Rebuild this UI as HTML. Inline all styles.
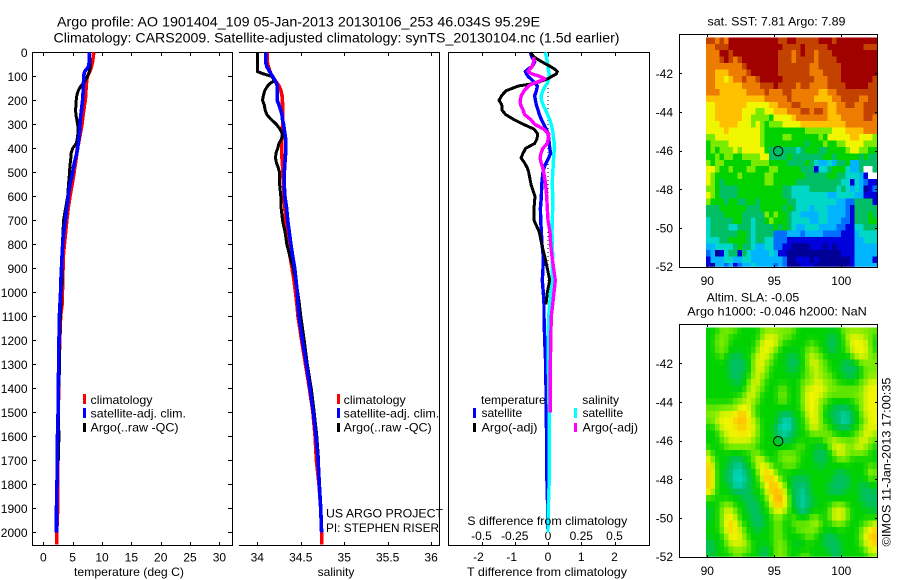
<!DOCTYPE html>
<html lang="en">
<head>
<meta charset="utf-8">
<title>Argo profile chart</title>
<style>
html,body{margin:0;padding:0;background:#fff;}
svg{display:block;}
text{font-family:"Liberation Sans",sans-serif;font-size:12px;fill:#000;}
</style>
</head>
<body>
<svg id="chart" xmlns="http://www.w3.org/2000/svg" width="900" height="580" viewBox="0 0 900 580">
  <rect x="0" y="0" width="900" height="580" fill="#fff"/>
  <text x="57" y="26.5" style="font-size:14px" textLength="483" lengthAdjust="spacingAndGlyphs">Argo profile: AO 1901404_109 05-Jan-2013 20130106_253 46.034S 95.29E</text>
  <text x="53.5" y="42.5" style="font-size:14px" textLength="566" lengthAdjust="spacingAndGlyphs">Climatology: CARS2009. Satellite-adjusted climatology: synTS_20130104.nc (1.5d earlier)</text>

  <g id="p1"></g>
  <g id="p2"></g>
  <g id="p3"></g>
  <g id="m1"></g>
  <g id="m2"></g>

  <text x="74" y="576" textLength="110" lengthAdjust="spacingAndGlyphs">temperature (deg C)</text>
  <text x="336" y="576" text-anchor="middle">salinity</text>
  <text x="467" y="576" textLength="160" lengthAdjust="spacingAndGlyphs">T difference from climatology</text>
  <text x="467.3" y="525" textLength="160" lengthAdjust="spacingAndGlyphs">S difference from climatology</text>

  <g>
    <rect x="83" y="394" width="3" height="10" fill="#f00"/>
    <rect x="83" y="408" width="3" height="10" fill="#00f"/>
    <rect x="83" y="423" width="3" height="9" fill="#000"/>
    <text x="90.5" y="404" textLength="62" lengthAdjust="spacingAndGlyphs">climatology</text>
    <text x="90.5" y="417.5" textLength="95.5" lengthAdjust="spacingAndGlyphs">satellite-adj. clim.</text>
    <text x="90.5" y="431.5" textLength="88" lengthAdjust="spacingAndGlyphs">Argo(..raw -QC)</text>
  </g>
  <g>
    <rect x="337" y="394" width="3" height="10" fill="#f00"/>
    <rect x="337" y="408" width="3" height="10" fill="#00f"/>
    <rect x="337" y="423" width="3" height="9" fill="#000"/>
    <text x="343.7" y="404" textLength="62" lengthAdjust="spacingAndGlyphs">climatology</text>
    <text x="343.7" y="417.5" textLength="95.5" lengthAdjust="spacingAndGlyphs">satellite-adj. clim.</text>
    <text x="343.7" y="431.5" textLength="88" lengthAdjust="spacingAndGlyphs">Argo(..raw -QC)</text>
  </g>
  <text x="326" y="517.5" textLength="117" lengthAdjust="spacingAndGlyphs">US ARGO PROJECT</text>
  <text x="326" y="532" textLength="113" lengthAdjust="spacingAndGlyphs">PI: STEPHEN RISER</text>

  <g>
    <text x="481" y="404">temperature</text>
    <text x="582.3" y="404">salinity</text>
    <rect x="473" y="408" width="3" height="10" fill="#00f"/>
    <rect x="473" y="423" width="3" height="9" fill="#000"/>
    <rect x="574" y="408" width="3" height="10" fill="#0ff"/>
    <rect x="574" y="423" width="3" height="9" fill="#f0f"/>
    <text x="481.5" y="417">satellite</text>
    <text x="481.5" y="431.5" textLength="56" lengthAdjust="spacingAndGlyphs">Argo(-adj)</text>
    <text x="582.5" y="417">satellite</text>
    <text x="582.5" y="431.5" textLength="55.5" lengthAdjust="spacingAndGlyphs">Argo(-adj)</text>
  </g>

  <text x="707.5" y="25.5" textLength="138" lengthAdjust="spacingAndGlyphs">sat. SST: 7.81  Argo: 7.89</text>
  <text x="706.7" y="301.5" textLength="92.5" lengthAdjust="spacingAndGlyphs">Altim. SLA: -0.05</text>
  <text x="687.3" y="315.7" textLength="179.5" lengthAdjust="spacingAndGlyphs">Argo h1000: -0.046 h2000: NaN</text>
  <text transform="translate(890.5,546.5) rotate(-90)" textLength="169" lengthAdjust="spacingAndGlyphs">©IMOS 11-Jan-2013 17:00:35</text>
</svg>
<script>
// Shared depth levels (m) for all profile series
const depths = [0,20,40,60,70,80,90,100,110,120,130,140,160,180,200,220,240,260,280,300,320,340,360,380,400,420,440,460,480,500,550,600,650,700,750,800,850,900,950,1000,1050,1100,1200,1300,1400,1500,1600,1700,1800,1900,2000,2050];

// Temperature (deg C)
const tempClim = [8.6,8.5,8.4,8.2,8.1,7.9,7.7,7.55,7.45,7.4,7.35,7.3,7.25,7.2,7.15,7.0,6.9,6.8,6.7,6.6,6.45,6.3,6.15,6.0,5.8,5.7,5.6,5.5,5.35,5.25,4.9,4.55,4.25,4.0,3.8,3.6,3.4,3.35,3.3,3.25,3.2,2.95,2.8,2.7,2.6,2.55,2.5,2.48,2.46,2.45,2.28,2.28];
const tempArgo = [7.85,7.9,7.95,7.95,7.9,7.85,7.7,7.5,7.3,7.1,6.8,6.4,5.95,5.7,5.6,5.55,5.5,5.55,5.7,5.85,5.95,5.9,5.8,5.6,5.0,4.75,4.68,4.6,4.52,4.48,4.3,4.15,3.8,3.45,3.35,3.25,3.22,3.22,3.2,3.05,3.0,2.9,2.78,2.8,2.62,2.55,2.65,2.55,null,null,null,null];
const tempSat = [7.84,7.84,7.84,7.7,7.4,7.05,6.95,6.9,6.88,6.86,6.84,6.82,6.8,6.75,6.7,6.6,6.5,6.4,6.3,6.25,6.2,6.15,6.05,5.95,5.85,5.7,5.5,5.3,5.15,5.0,4.55,4.25,4.0,3.75,3.5,3.3,3.18,3.1,3.0,2.95,2.85,2.75,2.68,2.62,2.56,2.52,2.42,2.38,2.34,2.25,2.25,null];

// Salinity
const salClim = [34.115,34.115,34.115,34.127,34.138,34.146,34.157,34.173,34.192,34.211,34.23,34.25,34.272,34.284,34.288,34.292,34.292,34.292,34.292,34.292,34.288,34.288,34.284,34.28,34.28,34.28,34.284,34.288,34.292,34.292,34.3,34.307,34.318,34.326,34.338,34.35,34.376,34.4,34.422,34.44,34.456,34.468,34.51,34.555,34.6,34.64,34.665,34.68,34.71,34.73,34.74,34.74];
const salArgo = [34.0,34.0,34.0,34.0,34.0,34.0,34.07,34.165,34.185,34.19,34.145,34.12,34.085,34.07,34.06,34.08,34.09,34.11,34.16,34.22,34.26,34.29,34.28,34.25,34.235,34.215,34.21,34.22,34.24,34.255,34.257,34.27,34.275,34.29,34.32,34.34,34.375,34.415,34.44,34.465,34.485,34.5,34.54,34.575,34.62,34.655,34.685,34.705,null,null,null,null];
const salSat = [34.096,34.096,34.096,34.11,34.127,34.142,34.157,34.176,34.192,34.207,34.222,34.23,34.23,34.23,34.23,34.25,34.268,34.284,34.29,34.303,34.31,34.318,34.326,34.326,34.326,34.326,34.322,34.318,34.315,34.31,34.31,34.318,34.337,34.35,34.368,34.387,34.407,34.43,34.445,34.46,34.468,34.48,34.52,34.565,34.606,34.644,34.675,34.70,34.713,34.73,34.74,null];

// Differences from climatology
const diffTSat = [-.53,-.48,-.40,-.48,-.60,-.68,-.65,-.60,-.52,-.45,-.38,-.32,-.35,-.40,-.38,-.35,-.30,-.26,-.20,-.13,-.05,.01,.02,.04,.05,.08,.02,-.05,-.12,-.15,-.19,-.20,-.23,-.22,-.20,-.18,-.14,-.15,-.17,-.14,-.12,-.12,-.10,-.07,-.06,-.06,-.04,-.04,-.03,-.01,0,null];
const diffTArgo = [-.52,-.42,-.18,.08,.20,.28,.25,.12,0,-.20,-.40,-.88,-1.26,-1.39,-1.47,-1.39,-1.39,-1.27,-1.03,-.74,-.42,-.31,-.33,-.40,-.67,-.75,-.81,-.71,-.63,-.58,-.51,-.39,-.42,-.42,-.26,-.19,-.10,-.02,.05,-.02,-.06,null,null,null,null,null,null,null,null,null,null,null];
const diffSSat = [-.02,-.012,-.005,0,.002,.005,.008,.008,.005,0,-.005,-.02,-.038,-.05,-.05,-.035,-.018,-.002,.012,.025,.032,.038,.042,.048,.048,.045,.042,.04,.038,.035,.032,.035,.035,.032,.03,.032,.035,.03,.03,.02,.012,.005,0,.002,.005,.008,.01,.01,.008,.002,0,null];
const diffSArgo = [null,-.105,-.108,-.12,-.138,-.15,-.12,-.062,-.025,-.062,-.112,-.145,-.18,-.2,-.21,-.205,-.188,-.175,-.13,-.1,-.03,.005,.002,-.005,-.038,-.052,-.06,-.052,-.04,-.032,-.018,-.01,-.005,0,.015,.02,.03,.042,.055,.045,.035,.025,.02,.018,.018,.018,null,null,null,null,null,null];

// Tick values and labels
const depthTicks = [0,100,200,300,400,500,600,700,800,900,1000,1100,1200,1300,1400,1500,1600,1700,1800,1900,2000];
const tempTicks = [0,5,10,15,20,25,30];
const salTicks = [34,34.5,35,35.5,36];
const diffTTicks = [-2,-1,0,1,2];
const diffSTicks = [-0.5,-0.25,0,0.25,0.5];
const diffSTickLabels = ['-0.5','-0.25','0','0.25','0.5'];
const lonTicks = [90,95,100];
const latTicks = [-42,-44,-46,-48,-50,-52];
const floatLon = 95.29;
const floatLat = -46.03;

// Map level grids: 36 rows (north to south) of 38 columns; -1 = no data
const sstLevels = [
[11,11,10,11,10,12,12,12,12,12,12,12,12,12,12,12,11,11,12,12,11,11,11,11,11,12,12,12,11,12,12,12,12,12,12,12,12,12],
[10,10,11,11,11,12,12,12,12,12,12,12,12,12,12,12,12,11,11,11,11,12,11,11,11,11,11,12,12,12,12,12,12,12,12,11,11,11],
[10,10,10,12,12,11,12,12,12,12,12,12,12,12,12,12,11,11,11,10,11,12,11,11,10,11,11,11,12,12,12,12,12,12,12,12,12,12],
[10,10,10,11,12,11,10,11,12,12,12,12,12,12,12,12,11,11,11,10,11,11,11,11,10,11,11,11,11,12,12,12,12,12,12,12,12,12],
[10,10,10,10,10,10,10,10,11,12,12,12,12,12,12,12,11,11,11,11,11,11,11,10,10,11,11,11,11,11,12,12,12,12,12,12,12,12],
[10,10,9,9,9,10,10,10,10,11,12,12,12,12,12,12,11,11,11,11,11,11,11,10,10,10,11,11,11,11,12,12,12,12,12,12,12,12],
[10,10,9,9,8,9,10,10,11,10,10,11,12,12,12,12,12,11,11,11,11,11,11,11,10,10,10,11,11,11,12,12,12,12,12,12,12,11],
[10,10,9,9,9,9,9,9,10,10,10,10,11,11,11,12,11,11,11,11,10,11,11,10,10,10,10,11,11,11,11,12,12,12,12,12,11,11],
[10,10,10,9,9,9,9,9,9,10,10,10,10,11,10,10,10,11,11,10,10,10,10,10,10,9,9,10,10,11,11,11,11,11,11,11,11,11],
[9,9,9,9,9,9,9,9,9,9,9,9,9,10,10,10,10,10,11,10,10,10,10,10,9,9,9,9,10,10,11,11,11,11,10,10,11,11],
[8,8,9,9,9,9,9,9,9,8,8,8,8,8,9,9,10,10,10,11,11,10,10,10,10,10,10,9,9,10,10,11,11,10,10,11,11,11],
[8,8,9,9,9,9,9,9,8,8,8,7,7,8,8,9,9,9,10,10,10,11,11,10,11,11,10,9,9,10,10,10,10,10,10,11,11,11],
[8,8,9,9,9,9,9,9,8,8,7,7,7,7,6,8,8,8,8,9,10,10,10,10,10,10,10,9,9,9,10,10,10,10,10,11,11,10],
[8,8,8,9,9,9,9,8,8,8,7,8,7,6,7,7,7,8,8,8,8,9,9,9,9,9,9,9,9,9,9,10,10,10,10,10,10,10],
[8,8,8,8,9,8,8,8,8,8,8,8,7,6,6,6,6,6,6,6,6,6,7,7,7,7,7,7,8,8,8,9,9,9,9,10,10,10],
[7,7,8,8,8,8,8,8,8,8,8,8,7,6,6,6,6,7,7,6,6,6,6,6,6,7,6,8,8,8,8,8,9,9,8,8,8,7],
[6,7,7,7,7,8,8,8,8,8,8,8,7,6,6,6,6,6,6,6,6,6,5,6,6,6,7,6,6,7,7,8,8,8,8,7,7,7],
[6,7,6,7,7,7,8,7,8,8,8,8,8,6,5,5,5,5,5,5,4,5,6,6,6,5,5,6,6,6,6,7,8,8,7,7,6,6],
[6,6,7,6,7,7,6,6,7,7,7,7,8,8,5,5,5,5,6,5,5,5,5,5,5,5,6,6,5,6,6,6,6,6,5,6,5,5],
[7,6,7,7,6,6,6,6,6,6,7,7,7,7,6,6,6,6,5,5,5,5,6,5,4,3,3,4,3,5,5,6,3,3,5,5,5,5],
[8,8,7,6,6,7,6,6,6,7,7,6,6,6,7,7,6,6,6,6,6,5,5,5,1,4,4,5,6,6,6,4,3,3,5,-1,-1,5],
[8,7,6,6,6,6,6,7,6,6,6,6,6,7,7,6,6,6,6,6,6,6,5,5,5,5,5,6,6,5,5,4,4,4,3,1,-1,-1],
[8,7,6,5,6,6,6,6,6,6,6,6,6,7,7,6,6,6,6,6,5,5,5,5,5,5,5,5,5,5,4,4,1,4,3,2,1,1],
[7,7,6,5,5,5,5,6,6,6,6,6,6,6,6,6,6,5,5,4,4,4,4,5,5,5,5,5,5,4,5,4,3,4,3,0,1,2],
[8,7,6,5,5,5,5,6,6,6,6,6,6,6,6,6,6,5,5,4,4,4,4,4,4,4,4,3,3,4,4,4,4,3,3,1,1,1],
[7,6,6,6,5,6,6,5,5,6,6,5,6,6,6,6,6,6,5,5,4,4,4,4,4,4,4,4,4,3,3,2,2,5,5,5,5,1],
[5,5,5,6,6,6,6,6,6,5,5,5,6,6,6,6,6,5,6,5,4,4,4,3,4,4,4,3,3,3,3,2,1,5,5,5,5,5],
[5,5,5,5,6,6,6,6,5,5,5,5,5,7,6,7,6,6,5,4,4,3,3,3,3,4,4,3,3,3,3,2,1,5,5,5,6,5],
[4,5,5,5,5,5,6,6,5,5,4,5,5,6,7,6,6,6,5,4,4,4,4,3,3,4,4,3,3,3,2,2,1,5,5,5,6,6],
[4,5,5,5,5,4,4,5,5,5,4,5,5,5,5,6,5,6,5,4,3,3,4,4,4,3,3,3,3,2,2,1,1,4,4,5,5,5],
[4,5,5,5,5,5,5,6,6,5,4,5,5,5,5,2,2,2,3,3,3,2,3,3,3,3,2,2,2,2,1,1,1,3,4,4,4,4],
[4,4,4,5,5,6,6,6,6,5,4,5,5,4,4,2,2,2,1,1,1,1,1,1,1,1,1,1,1,1,1,1,1,3,3,4,4,4],
[3,3,4,4,4,4,5,6,5,5,4,3,3,4,4,2,2,1,1,0,0,0,0,1,1,1,0,1,0,1,1,1,1,3,3,3,3,3],
[2,3,0,1,4,5,5,1,5,4,3,3,3,3,4,3,1,1,0,0,0,0,0,0,0,0,0,0,0,0,1,1,1,3,3,3,3,3],
[1,3,3,3,4,4,3,3,4,4,3,3,3,3,3,3,3,2,0,0,1,1,1,0,1,0,0,0,0,0,0,0,1,3,3,3,3,1],
[1,0,3,3,2,3,1,2,3,3,4,3,3,3,3,2,3,2,0,0,0,1,1,1,0,0,0,0,0,0,0,0,1,3,3,3,3,3]
];
const slaLevels = [
[6,6,6,7,7,7,7,6,6,6,6,6,7,7,7,7,7,7,7,7,6,6,6,6,6,6,6,6,6,6,7,7,7,7,7,7,7,7],
[6,6,7,7,7,6,6,6,6,6,6,6,7,8,8,8,7,7,7,6,6,6,6,6,6,6,6,5,5,6,6,8,8,8,8,7,7,6],
[6,6,7,7,7,6,6,6,6,6,6,7,8,8,8,8,7,6,6,6,6,6,6,7,6,6,6,5,5,6,6,7,8,8,8,8,7,6],
[6,6,7,7,7,6,6,6,6,6,6,7,8,8,8,7,6,6,6,6,6,6,7,7,7,6,6,5,5,6,6,7,8,8,8,8,7,6],
[6,6,6,7,6,5,5,5,6,6,7,8,8,8,7,6,6,6,5,5,6,6,7,8,7,7,6,6,6,6,6,6,7,8,8,8,7,7],
[6,6,6,6,6,5,5,5,5,6,7,8,8,7,7,6,6,6,5,5,5,6,7,8,8,7,7,6,6,6,5,5,5,6,7,7,7,7],
[6,6,6,6,6,5,5,5,5,6,7,8,8,7,6,6,6,6,5,5,6,6,7,7,8,7,7,6,6,6,5,5,5,5,6,7,7,7],
[6,6,6,6,6,5,5,5,6,6,7,8,7,7,6,6,6,6,6,6,6,6,7,7,8,7,7,7,6,6,6,5,5,6,6,7,7,7],
[6,6,6,6,6,6,5,5,6,7,8,8,7,6,6,6,6,6,6,6,6,7,7,7,8,8,7,7,7,6,6,6,6,6,7,7,8,8],
[6,6,6,6,6,6,6,6,6,7,8,7,7,6,6,6,7,7,6,6,6,7,8,8,8,8,8,7,7,7,7,7,7,7,7,8,8,8],
[6,6,6,6,6,6,6,6,7,8,8,7,6,6,6,6,7,7,6,6,6,7,8,8,8,8,7,7,7,7,7,7,7,7,7,8,8,8],
[6,6,6,6,6,6,7,7,7,8,7,7,6,6,6,6,7,7,6,6,6,7,8,8,8,7,7,6,6,6,6,6,6,7,7,8,8,8],
[7,7,7,7,7,7,7,8,8,8,7,6,6,6,6,6,6,6,6,6,6,7,8,8,8,7,6,6,5,5,5,5,6,6,7,8,8,8],
[7,7,7,8,8,8,8,9,9,8,7,6,6,6,6,6,5,5,5,6,6,6,8,8,8,7,6,5,5,5,4,5,5,6,7,8,8,8],
[7,7,8,8,8,8,9,9,9,8,8,7,6,6,6,6,5,4,4,5,6,6,7,8,8,7,6,6,5,5,4,4,5,6,6,7,8,8],
[6,6,7,8,8,8,8,9,9,8,8,7,6,6,6,5,4,4,4,5,6,6,7,8,8,7,7,6,6,5,5,5,6,6,7,8,8,8],
[6,6,6,7,8,8,8,8,8,8,8,7,6,6,6,5,5,4,5,5,6,6,6,7,7,7,7,7,6,6,6,6,6,7,7,8,8,7],
[6,6,6,7,7,8,8,8,8,8,7,7,6,6,6,6,5,5,5,6,6,6,6,6,6,6,7,7,8,7,7,7,7,7,8,8,7,7],
[6,6,6,6,7,7,7,7,7,7,7,6,6,6,6,6,6,6,6,6,7,7,6,6,6,5,6,7,8,8,8,7,7,8,8,7,7,6],
[8,6,6,6,6,6,6,6,6,6,7,7,6,6,6,6,7,7,7,7,6,6,6,6,5,5,5,6,7,8,8,7,7,7,7,7,6,6],
[8,7,6,6,6,5,5,5,6,6,7,8,8,6,6,6,7,7,7,7,7,6,6,6,5,5,5,6,6,7,7,7,6,6,6,6,6,6],
[9,8,6,6,6,5,5,4,5,6,6,8,8,8,7,6,6,7,7,7,6,6,6,6,6,5,6,6,6,6,6,6,6,6,6,6,7,6],
[9,8,6,6,5,5,4,4,5,5,6,7,8,9,8,7,6,6,6,6,6,6,6,6,6,6,6,6,6,5,5,6,6,6,6,6,8,7],
[9,8,6,6,5,5,4,4,4,5,6,6,8,9,9,8,7,6,6,5,5,5,5,6,6,6,6,6,5,5,5,5,6,6,6,6,7,6],
[9,8,6,6,6,5,4,4,5,5,6,6,7,8,9,9,8,7,6,5,5,5,5,6,6,6,6,5,5,5,5,5,6,6,5,5,6,6],
[9,8,6,6,6,6,5,5,5,5,6,6,6,8,9,9,9,8,6,5,5,4,5,6,6,6,6,5,5,5,5,6,6,6,5,5,5,5],
[6,6,6,6,6,6,6,6,5,5,5,6,6,7,8,9,10,8,7,5,5,4,5,5,6,6,6,6,6,6,6,6,6,6,5,5,5,5],
[6,6,6,7,7,7,6,6,6,5,5,5,6,6,8,9,9,8,7,5,5,4,5,5,6,6,6,6,7,7,7,6,6,6,6,5,5,5],
[5,6,6,7,8,8,7,6,6,5,5,5,6,6,7,8,8,8,6,6,5,4,5,6,6,6,6,7,8,8,8,7,6,6,6,6,6,5],
[5,6,6,7,8,8,8,6,6,6,5,5,5,6,6,7,7,6,6,7,6,6,6,7,7,6,6,7,8,8,8,7,6,6,6,6,6,6],
[6,6,6,7,8,9,8,7,6,6,5,5,5,6,6,7,7,6,6,7,7,7,7,7,8,7,6,6,7,7,7,6,6,6,6,7,7,8],
[6,6,6,7,8,9,8,8,7,6,6,5,6,6,6,7,7,6,6,6,7,7,7,7,7,6,6,6,6,6,6,6,6,6,7,8,8,9],
[6,6,6,6,7,8,8,8,7,6,6,6,6,6,6,7,7,6,6,6,6,6,7,7,6,6,5,5,5,6,6,6,6,6,7,8,9,9],
[5,5,6,6,7,8,8,8,8,7,6,6,6,6,6,7,7,7,6,6,5,6,6,6,6,6,5,5,5,5,6,6,6,6,7,8,8,9],
[5,5,6,6,6,7,7,7,7,7,6,6,5,5,6,7,7,7,6,6,6,6,6,6,6,6,6,5,5,5,6,6,6,6,6,7,8,8],
[6,5,6,6,6,6,7,7,6,6,6,6,5,5,6,7,7,7,6,6,6,7,7,6,6,6,6,6,5,5,6,6,6,6,6,6,7,7]
];

const NS = 'http://www.w3.org/2000/svg';
const FRAME = {top: 52, bottom: 545};
const yDepth = d => 52.3 + 0.24 * d;
const xTemp = t => 43.3 + 5.87 * t;
const xSal = s => 257.3 + 86.9 * (s - 34);
const xDiffT = t => 548 + 33.25 * t;
const xDiffS = s => 548 + 133 * s;
const xLon = lon => 707.3 + 13.4 * (lon - 90);
const LEVEL_RGB = [[0,0,150],[0,0,220],[0,110,255],[0,180,255],[0,215,200],[0,190,100],[0,210,0],[120,235,0],[240,245,0],[255,192,0],[236,125,0],[196,66,0],[160,0,0]];

function levelColor(v) {
  if (v < 0) return '#fff';
  const lo = Math.floor(v), hi = Math.min(lo + 1, LEVEL_RGB.length - 1), f = v - lo;
  const c = LEVEL_RGB[lo].map((a, i) => Math.round(a + (LEVEL_RGB[hi][i] - a) * f));
  return 'rgb(' + c.join(',') + ')';
}
function smoothLevel(levels, r, c) {
  let sum = 0, weight = 0;
  for (let dr = -1; dr <= 1; dr++) {
    for (let dc = -1; dc <= 1; dc++) {
      const row = levels[r + dr];
      if (!row || row[c + dc] === undefined) continue;
      const w = dr === 0 && dc === 0 ? 6 : (dr === 0 || dc === 0 ? 2 : 1);
      sum += w * row[c + dc];
      weight += w;
    }
  }
  return sum / weight;
}
function svgEl(tag, attrs, parent) {
  const el = document.createElementNS(NS, tag);
  for (const key in attrs) el.setAttribute(key, attrs[key]);
  parent.appendChild(el);
  return el;
}
function hLine(parent, x1, x2, y) {
  const el = svgEl('rect', {x: Math.round(x1), y: Math.round(y), width: Math.round(x2 - x1) + 1, height: 1, fill: '#000', 'shape-rendering': 'crispEdges'}, parent);
  
  
}
function vLine(parent, x, y1, y2) {
  const el = svgEl('rect', {x: Math.round(x), y: Math.round(y1), width: 1, height: Math.round(y2 - y1) + 1, fill: '#000', 'shape-rendering': 'crispEdges'}, parent);
  
  
}
function label(parent, x, y, str, anchor) {
  const el = svgEl('text', {x: x, y: y, 'text-anchor': anchor}, parent);
  el.textContent = str;
  
  
}
function series(parent, name, xScale, values, color, width) {
  const pts = [];
  values.forEach((v, i) => { if (v !== null) pts.push(xScale(v).toFixed(1) + ',' + yDepth(depths[i]).toFixed(1)); });
  const el = svgEl('polyline', {points: pts.join(' '), fill: 'none', stroke: color, 'stroke-width': width, 'shape-rendering': 'crispEdges', 'stroke-linejoin': 'round'}, parent);
  
  
}
function xTicks(parent, ticks, scale, yTop, yBottom) {
  ticks.forEach(t => {
    vLine(parent, scale(t), yTop, yTop + 3);
    vLine(parent, scale(t), yBottom - 3, yBottom);
  });
}

// Temperature panel
const p1 = document.getElementById('p1');
hLine(p1, 32, 232, FRAME.top); hLine(p1, 32, 232, FRAME.bottom);
vLine(p1, 32, FRAME.top, FRAME.bottom); vLine(p1, 232, FRAME.top, FRAME.bottom);
xTicks(p1, tempTicks, xTemp, FRAME.top, FRAME.bottom);
depthTicks.forEach(d => {
  hLine(p1, 32, 35, yDepth(d));
  hLine(p1, 228, 232, yDepth(d));
  label(p1, 27.5, yDepth(d) + 4.5, String(d), 'end');
});
tempTicks.forEach(t => label(p1, xTemp(t), 561.5, String(t), 'middle'));
series(p1, 'temperature-climatology-line', xTemp, tempClim, '#f00', 3.6);
series(p1, 'temperature-argo-line', xTemp, tempArgo, '#000', 3);
series(p1, 'temperature-satellite-line', xTemp, tempSat, '#00f', 3.6);

// Salinity panel
const p2 = document.getElementById('p2');
hLine(p2, 239, 439, FRAME.top); hLine(p2, 239, 439, FRAME.bottom);
vLine(p2, 439, FRAME.top, FRAME.bottom);
xTicks(p2, salTicks, xSal, FRAME.top, FRAME.bottom);
salTicks.forEach(s => label(p2, xSal(s), 561.5, String(s), 'middle'));
series(p2, 'salinity-climatology-line', xSal, salClim, '#f00', 3.6);
series(p2, 'salinity-argo-line', xSal, salArgo, '#000', 3);
series(p2, 'salinity-satellite-line', xSal, salSat, '#00f', 3.6);

// Difference panel
const p3 = document.getElementById('p3');
hLine(p3, 448, 649, FRAME.top); hLine(p3, 448, 649, FRAME.bottom);
vLine(p3, 448, FRAME.top, FRAME.bottom); vLine(p3, 649, FRAME.top, FRAME.bottom);
xTicks(p3, diffTTicks, xDiffT, FRAME.top, FRAME.bottom);
diffTTicks.forEach(t => label(p3, xDiffT(t) - (t < 0 ? 3 : 0), 561, String(t), 'middle'));
diffSTicks.forEach((s, i) => label(p3, xDiffS(s), 540, diffSTickLabels[i], 'middle'));
const zeroLine = svgEl('line', {x1: xDiffT(0), x2: xDiffT(0), y1: FRAME.top, y2: 300, stroke: '#000', 'stroke-width': 1, 'stroke-dasharray': '1 3', 'shape-rendering': 'crispEdges'}, p3);


series(p3, 't-diff-satellite-line', xDiffT, diffTSat, '#00f', 3.4);
series(p3, 's-diff-satellite-line', xDiffS, diffSSat, '#0ff', 3.4);
series(p3, 't-diff-argo-line', xDiffT, diffTArgo, '#000', 3);
series(p3, 's-diff-argo-line', xDiffS, diffSArgo, '#f0f', 3.4);

// Maps
const LON_START = 89.9, LON_STEP = 0.3364, LAT_START = -40.14, LAT_STEP = 0.3333;
function drawMap(id, levels, yOffset, clipId, smooth) {
  const g = document.getElementById(id);
  const yLat = lat => yOffset + 73.3 + 19.33 * (-42 - lat);
  const axTop = yOffset + 34, axBottom = yOffset + 266.7, axLeft = 679, axRight = 877;
  const defs = svgEl('clipPath', {id: clipId}, g);
  svgEl('rect', {x: axLeft, y: axTop, width: axRight - axLeft, height: axBottom - axTop}, defs);
  const cells = svgEl('g', {'clip-path': 'url(#' + clipId + ')'}, g);
  levels.forEach((row, r) => {
    row.forEach((v, c) => {
      const x0 = xLon(LON_START + c * LON_STEP), x1 = xLon(LON_START + (c + 1) * LON_STEP);
      const y0 = yLat(LAT_START - r * LAT_STEP), y1 = yLat(LAT_START - (r + 1) * LAT_STEP);
      const shown = smooth ? smoothLevel(levels, r, c) : v;
      const cell = svgEl('rect', {x: x0.toFixed(1), y: y0.toFixed(1), width: (x1 - x0 + 0.4).toFixed(1), height: (y1 - y0 + 0.4).toFixed(1), fill: levelColor(shown), 'shape-rendering': 'crispEdges'}, cells);
      
      
    });
  });
  hLine(g, axLeft, axRight, axTop); hLine(g, axLeft, axRight, axBottom);
  vLine(g, axLeft, axTop, axBottom); vLine(g, axRight, axTop, axBottom);
  lonTicks.forEach(lon => {
    vLine(g, xLon(lon), axTop, axTop + 2);
    vLine(g, xLon(lon), axBottom - 2, axBottom);
    label(g, xLon(lon), yOffset + 285, String(lon), 'middle');
  });
  latTicks.forEach(lat => {
    hLine(g, axLeft, axLeft + 2, yLat(lat));
    hLine(g, axRight - 2, axRight, yLat(lat));
    label(g, 673, yLat(lat) + 4.5, String(lat), 'end');
  });
  const marker = svgEl('circle', {cx: xLon(floatLon).toFixed(1), cy: yLat(floatLat).toFixed(1), r: 4.7, fill: 'none', stroke: '#000', 'stroke-width': 1}, g);
  
  
}
drawMap('m1', sstLevels, 0, 'clip-sst', false);
drawMap('m2', slaLevels, 290, 'clip-sla', true);
</script>
</body>
</html>
